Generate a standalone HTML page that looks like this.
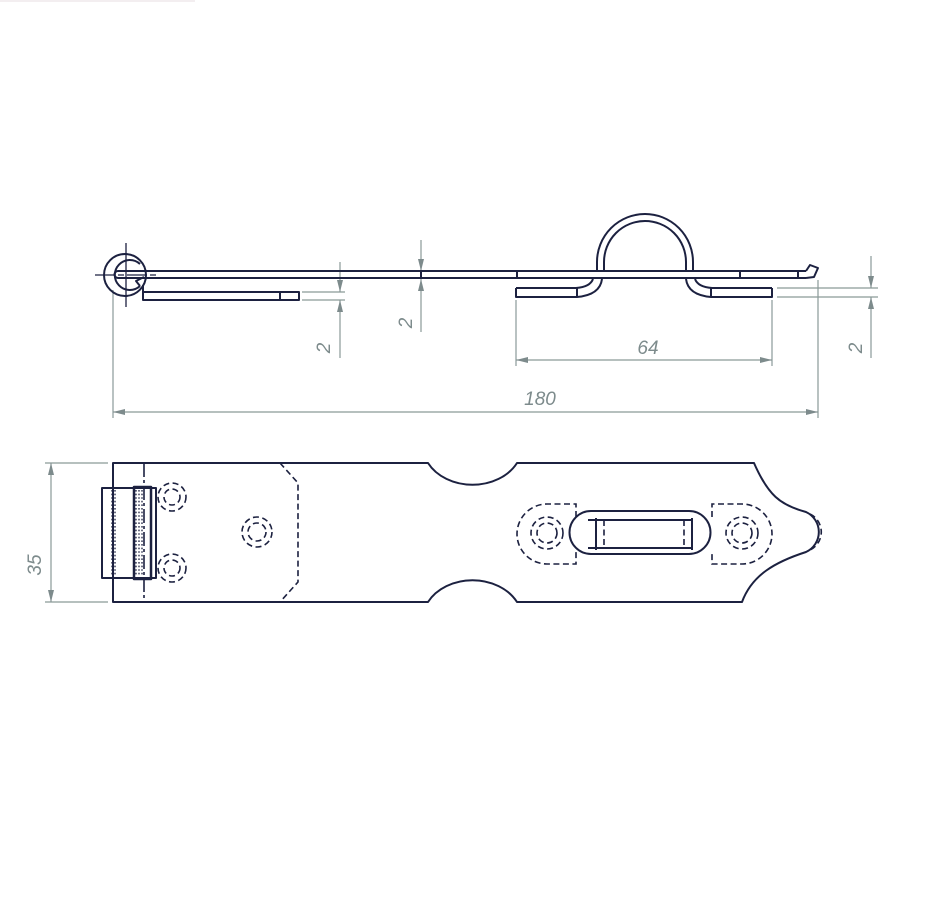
<!DOCTYPE html>
<html><head><meta charset="utf-8"><style>
html,body{margin:0;padding:0;background:#fff;width:939px;height:900px;overflow:hidden}
svg{display:block}
text{font-family:"Liberation Sans",sans-serif;font-style:italic;fill:#7d8b8c;font-size:19px}
</style></head><body>
<svg width="939" height="900" viewBox="0 0 939 900" xmlns="http://www.w3.org/2000/svg">
<defs>
<marker id="a" viewBox="0 0 12 6" refX="12" refY="3" markerWidth="12" markerHeight="6" orient="auto-start-reverse" markerUnits="userSpaceOnUse"><path d="M0,0 L12,3 L0,6 Z" fill="#7d8b8c"/></marker>
</defs>
<line x1="0" y1="1" x2="195" y2="1" stroke="#f3eef0" stroke-width="2"/>
<g stroke="#8a9a98" stroke-width="1.2" fill="none">
<line x1="113" y1="290" x2="113" y2="418"/>
<line x1="818" y1="280" x2="818" y2="418"/>
<line x1="113" y1="412" x2="818" y2="412" marker-start="url(#a)" marker-end="url(#a)"/>
<line x1="516" y1="300" x2="516" y2="366"/>
<line x1="772" y1="300" x2="772" y2="366"/>
<line x1="516" y1="360" x2="772" y2="360" marker-start="url(#a)" marker-end="url(#a)"/>
<line x1="302" y1="292" x2="345" y2="292"/>
<line x1="302" y1="300" x2="345" y2="300"/>
<line x1="340" y1="262" x2="340" y2="292" marker-end="url(#a)"/>
<line x1="340" y1="358" x2="340" y2="300" marker-end="url(#a)"/>
<line x1="421" y1="240" x2="421" y2="271" marker-end="url(#a)"/>
<line x1="421" y1="332" x2="421" y2="279" marker-end="url(#a)"/>
<line x1="777" y1="288" x2="878" y2="288"/>
<line x1="777" y1="297" x2="878" y2="297"/>
<line x1="871" y1="256" x2="871" y2="288" marker-end="url(#a)"/>
<line x1="871" y1="358" x2="871" y2="297" marker-end="url(#a)"/>
<line x1="45" y1="463" x2="108" y2="463"/>
<line x1="45" y1="602" x2="108" y2="602"/>
<line x1="51" y1="463" x2="51" y2="602" marker-start="url(#a)" marker-end="url(#a)"/>
</g>
<text x="540" y="405" text-anchor="middle">180</text>
<text x="648" y="354" text-anchor="middle">64</text>
<text transform="translate(330,348) rotate(-90)" text-anchor="middle">2</text>
<text transform="translate(412,323) rotate(-90)" text-anchor="middle">2</text>
<text transform="translate(862,348) rotate(-90)" text-anchor="middle">2</text>
<text transform="translate(41,565) rotate(-90)" text-anchor="middle">35</text>

<g stroke="#1c2140" stroke-width="2" fill="none" stroke-linejoin="round">
<!-- loop -->
<circle cx="125" cy="275" r="21"/>
<path d="M140,286 A15,15 0 1 1 140,264"/>
<path d="M806,271 L118,271 A3.5,3.5 0 0 0 118,278 L806,278"/>
<path d="M140,286 L136,281 L144,277 M143,285 L143,292"/>
<line x1="421" y1="271" x2="421" y2="278"/>
<line x1="517" y1="271" x2="517" y2="278"/>
<line x1="740" y1="271" x2="740" y2="278"/>
<line x1="798" y1="271" x2="798" y2="278"/>
<path d="M806,271 L810,265 L818,268 L814,277 L806,278"/>
<path d="M597,271 L597,262 A48,48 0 0 1 693,262 L693,271"/>
<path d="M604,271 L604,262 A41,41 0 0 1 686,262 L686,271"/>
<rect x="143" y="292" width="156" height="8"/>
<line x1="280" y1="292" x2="280" y2="300"/>
<path d="M516,288 L576,288 Q590,287 593,279"/>
<path d="M516,288 L516,297 L577,297 Q600,295 602,279"/>
<line x1="577" y1="288" x2="577" y2="297"/>
<path d="M772,288 L712,288 Q698,287 695,279"/>
<path d="M772,288 L772,297 L711,297 Q688,295 686,279"/>
<line x1="711" y1="288" x2="711" y2="297"/>

<!-- top view outline -->
<path d="M113,463 L428,463 A50,40 0 0 0 517,463 L754,463 C768,495 780,505 806,512 A22,22 0 0 1 806,552 C775,562 752,575 742,602 L517,602 A50,40 0 0 0 428,602 L113,602 Z"/>
<rect x="102" y="488" width="54" height="90"/>
<rect x="134" y="487" width="17" height="92" stroke-width="2.5"/>
<path d="M591,511 L689,511 A21.5,21.5 0 0 1 689,554 L591,554 A21.5,21.5 0 0 1 591,511 Z"/>
<line x1="588" y1="520" x2="692" y2="520"/>
<line x1="588" y1="548" x2="692" y2="548"/>
<line x1="596" y1="518" x2="596" y2="550"/>
<line x1="692" y1="518" x2="692" y2="550"/>
</g>
<g stroke="#1c2140" stroke-width="1.6" fill="none" stroke-dasharray="6,3.5">
<line x1="144" y1="463" x2="144" y2="602" stroke-dasharray="14,3,3,3"/>
<path d="M280,463 L298,483 L298,582 L280,602"/>
<g stroke-dasharray="1.6,2" stroke-width="1.3">
<line x1="112" y1="490" x2="112" y2="576"/><line x1="115" y1="490" x2="115" y2="576"/>
<line x1="136" y1="490" x2="136" y2="576"/><line x1="139" y1="490" x2="139" y2="576"/><line x1="142" y1="490" x2="142" y2="576"/>
</g>
<circle cx="172" cy="497" r="14"/><circle cx="172" cy="497" r="8"/>
<circle cx="172" cy="568" r="14"/><circle cx="172" cy="568" r="8"/>
<circle cx="257" cy="532" r="15"/><circle cx="257" cy="532" r="9"/>
<circle cx="547" cy="533" r="16"/><circle cx="547" cy="533" r="10"/>
<circle cx="742" cy="533" r="16"/><circle cx="742" cy="533" r="10"/>
<path d="M576,517 L576,504 L547,504 A30,30 0 0 0 547,564 L576,564 L576,551"/>
<path d="M712,517 L712,504 L742,504 A30,30 0 0 1 742,564 L712,564 L712,551"/>
<line x1="604" y1="520" x2="604" y2="548"/>
<line x1="684" y1="520" x2="684" y2="548"/>
<path d="M810,514 A20,20 0 0 1 810,550"/>
</g>
<g stroke="#1c2140" stroke-width="1.3">
<line x1="126" y1="243" x2="126" y2="307"/>
<line x1="95" y1="275" x2="158" y2="275" stroke-dasharray="20,3,6,3"/>
</g>
</svg>
</body></html>
